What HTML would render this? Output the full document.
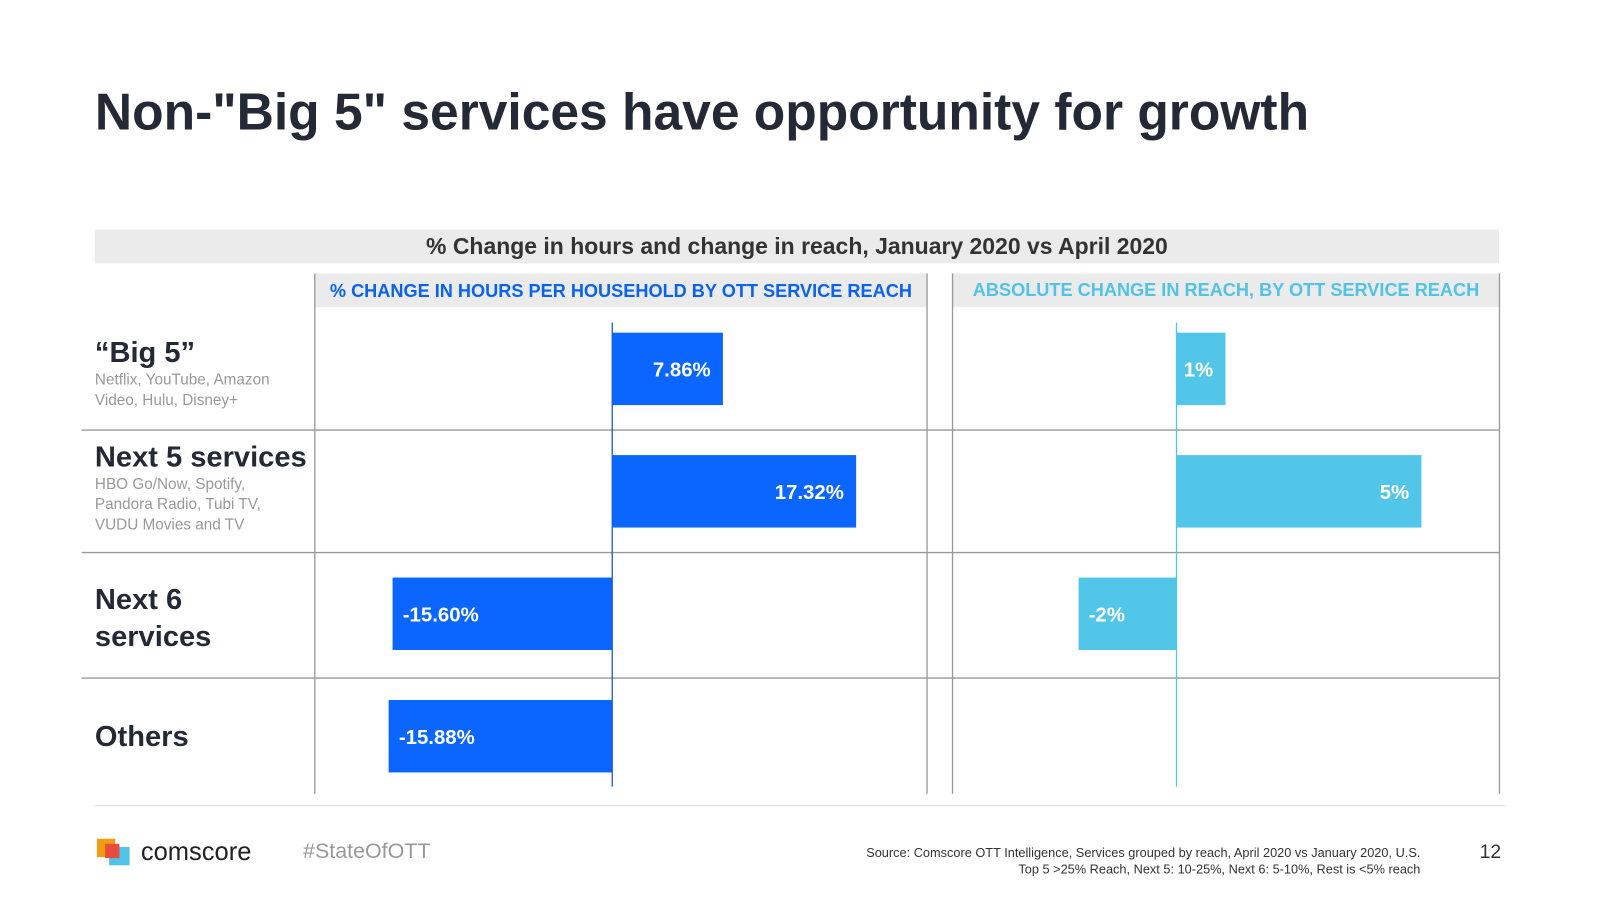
<!DOCTYPE html>
<html><head><meta charset="utf-8"><style>
body{margin:0;width:1600px;height:900px;background:#fff;font-family:"Liberation Sans",sans-serif;position:relative;overflow:hidden}
#wrap{position:absolute;left:0;top:0;width:1600px;height:900px;transform:scale(1.0204);transform-origin:0 0}
.a{position:absolute}
</style></head><body><div id="wrap">
<div class="a" style="left:93px;top:80px;font-size:50.5px;font-weight:bold;color:#232a36">Non-"Big 5" services have opportunity for growth</div>
<div class="a" style="left:93px;top:225px;width:1376px;height:33px;background:#ebebeb;text-align:center;line-height:33px;font-size:22.5px;font-weight:bold;color:#333">% Change in hours and change in reach, January 2020 vs April 2020</div>
<div class="a" style="left:309px;top:268px;width:599px;height:33px;background:#ebebeb;text-align:center;line-height:34px;font-size:17.8px;font-weight:bold;color:#0a63f0">% CHANGE IN HOURS PER HOUSEHOLD BY OTT SERVICE REACH</div>
<div class="a" style="left:934px;top:268px;width:535px;height:33px;background:#ebebeb;text-align:center;line-height:33px;font-size:17.8px;font-weight:bold;color:#52c3e8">ABSOLUTE CHANGE IN REACH, BY OTT SERVICE REACH</div>
<svg class="a" style="left:0;top:0" width="1600" height="900">
<g stroke="#999" stroke-width="1.3">
<line x1="308.5" y1="268" x2="308.5" y2="778"/><line x1="908.5" y1="268" x2="908.5" y2="778"/>
<line x1="933.5" y1="268" x2="933.5" y2="778"/><line x1="1469.5" y1="268" x2="1469.5" y2="778"/>
<line x1="80" y1="421.5" x2="1469" y2="421.5"/><line x1="80" y1="541.5" x2="1469" y2="541.5"/><line x1="80" y1="664.5" x2="1469" y2="664.5"/>
</g>
<line x1="93" y1="789.5" x2="1475" y2="789.5" stroke="#ddd"/>
<g id="bars"></g>
</svg>
<div class="a" style="left:93px;top:330px"><div style="font-size:28.5px;font-weight:bold;color:#232a36">“Big 5”</div><div style="font-size:15px;color:#999;line-height:20px">Netflix, YouTube, Amazon<br>Video, Hulu, Disney+</div></div>
<div class="a" style="left:93px;top:432px"><div style="font-size:28.5px;font-weight:bold;color:#232a36">Next 5 services</div><div style="font-size:15px;color:#999;line-height:20px">HBO Go/Now, Spotify,<br>Pandora Radio, Tubi TV,<br>VUDU Movies and TV</div></div>
<div class="a" style="left:93px;top:570px;font-size:28.5px;font-weight:bold;color:#232a36;line-height:36px">Next 6<br>services</div>
<div class="a" style="left:93px;top:706px;font-size:28.5px;font-weight:bold;color:#232a36">Others</div>
<div class="a" style="left:95px;top:822px;width:32px;height:26px">
<div class="a" style="left:0;top:0;width:18px;height:18px;background:#f39c12"></div>
<div class="a" style="left:12px;top:8px;width:20px;height:18px;background:#4fc3e8"></div>
<div class="a" style="left:8px;top:5px;width:14px;height:14px;background:#e74c3c"></div></div>
<div class="a" style="left:138px;top:821px;font-size:25px;color:#222">comscore</div>
<div class="a" style="left:297px;top:823px;font-size:21px;color:#999">#StateOfOTT</div>
<div class="a" style="left:780px;top:828px;width:612px;text-align:right;font-size:12.5px;color:#333;line-height:16px">Source: Comscore OTT Intelligence, Services grouped by reach, April 2020 vs January 2020, U.S.<br>Top 5 &gt;25% Reach, Next 5: 10-25%, Next 6: 5-10%, Rest is &lt;5% reach</div>
<div class="a" style="left:1450px;top:825px;font-size:19px;color:#333">12</div>
</div>
<script>
const categories=["Big 5","Next 5","Next 6","Others"];
const hoursChange=[7.86,17.32,-15.60,-15.88];
const hoursLabels=["7.86%","17.32%","-15.60%","-15.88%"];
const reachChange=[1,5,-2];
const reachLabels=["1%","5%","-2%"];
const NS="http://www.w3.org/2000/svg";
const g=document.getElementById('bars');
const rowTop=[326,446,566,686], barH=71;
function xL(v){return 600+v*13.8;}
function xR(v){return 1153+v*48;}
function mk(t,a){const e=document.createElementNS(NS,t);for(const k in a)e.setAttribute(k,a[k]);g.appendChild(e);return e;}
function draw(vals,labels,xf,color,pfx){
 vals.forEach((v,i)=>{
  const x0=Math.min(xf(0),xf(v)),w=Math.abs(xf(v)-xf(0));
  const r=mk('rect',{x:x0,y:rowTop[i],width:w,height:barH,fill:color});
  
  
  const pos=v>=0;
  const t=mk('text',{x:pos?x0+w-12:x0+10,y:rowTop[i]+43,fill:'#fff','font-size':20,'font-weight':'bold','text-anchor':pos?'end':'start','font-family':'Liberation Sans, sans-serif'});
  t.textContent=labels[i];
  
  
 });
}
draw(hoursChange,hoursLabels,xL,'#0a66ff','hours');
draw(reachChange,reachLabels,xR,'#52c6e8','reach');
const z1=mk('line',{x1:xL(0),y1:316,x2:xL(0),y2:771,stroke:'#1a5fd6','stroke-width':1.3});


const z2=mk('line',{x1:xR(0),y1:316,x2:xR(0),y2:771,stroke:'#52c6e8','stroke-width':1.3});


</script>
</body></html>
